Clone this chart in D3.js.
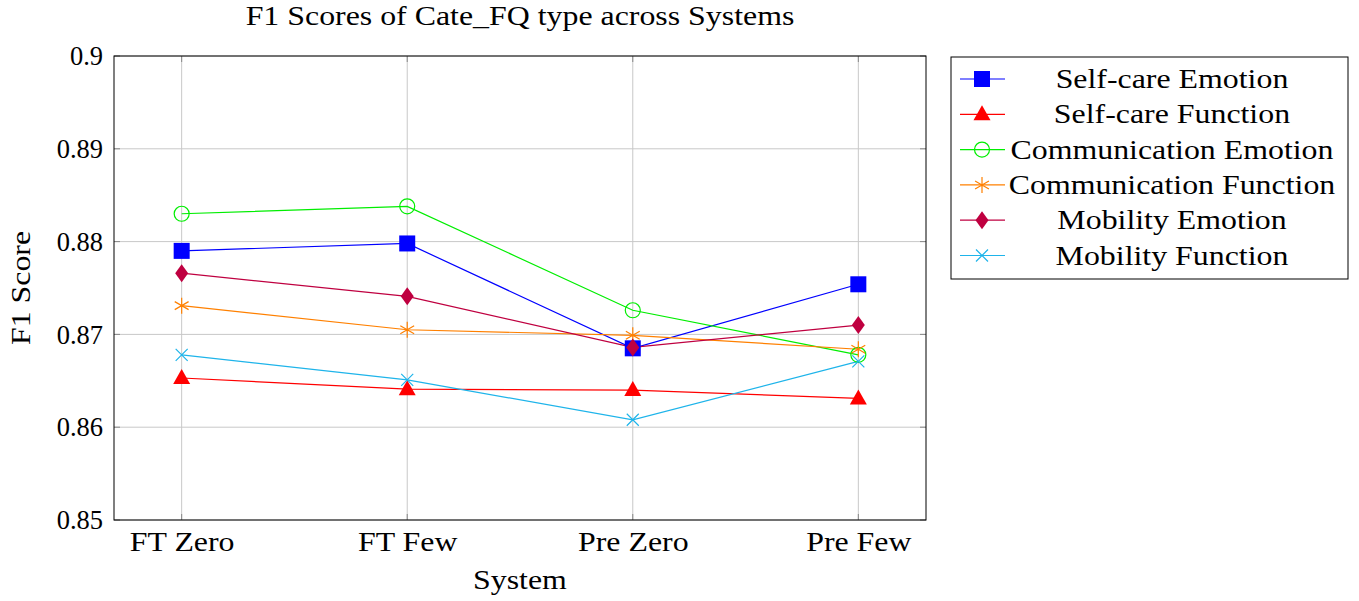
<!DOCTYPE html>
<html><head><meta charset="utf-8">
<script src="https://cdn.jsdelivr.net/npm/d3@7"></script>
<style>body{margin:0;background:#fff}svg text{font-family:"Liberation Serif","DejaVu Serif",serif;fill:#000}</style>
</head><body><svg id="c" width="1359" height="601"></svg>
<script>
const categories = ["FT Zero","FT Few","Pre Zero","Pre Few"];
const seriesNames = ["Self-care Emotion","Self-care Function","Communication Emotion","Communication Function","Mobility Emotion","Mobility Function"];
const selfCareEmotion = [0.8790,0.8798,0.8685,0.8754];
const selfCareFunction = [0.8653,0.8641,0.8640,0.8631];
const commEmotion = [0.8830,0.8838,0.8726,0.8678];
const commFunction = [0.8731,0.8705,0.8699,0.8684];
const mobEmotion = [0.8766,0.8741,0.8686,0.8710];
const mobFunction = [0.8678,0.8651,0.8608,0.8671];
const yTicks = [0.85,0.86,0.87,0.88,0.89,0.9];
const seriesValues = [selfCareEmotion,selfCareFunction,commEmotion,commFunction,mobEmotion,mobFunction];
const colors = ["#0000ff","#ff0000","#00ee00","#ff8000","#bf0040","#1eb4ea"];
const markers = ["square","triangle","circle","star","diamond","cross"];
const FS = "27px";

const svg = d3.select("#c");
const L=114,R=926,T=56,B=520;
const x = d3.scalePoint().domain(categories).range([L,R]).padding(0.3);
const y = d3.scaleLinear().domain([0.85,0.9]).range([B,T]);

const g = svg.append("g");
g.selectAll(".gy").data(yTicks).enter().append("line")
 .attr("x1",L).attr("x2",R).attr("y1",d=>y(d)).attr("y2",d=>y(d)).attr("stroke","#c8c8c8").attr("stroke-width",1);
g.selectAll(".gx").data(categories).enter().append("line")
 .attr("x1",d=>x(d)).attr("x2",d=>x(d)).attr("y1",T).attr("y2",B).attr("stroke","#c8c8c8").attr("stroke-width",1);
yTicks.forEach(t=>{
  g.append("line").attr("x1",L).attr("x2",L+6).attr("y1",y(t)).attr("y2",y(t)).attr("stroke","#888");
  g.append("line").attr("x1",R-6).attr("x2",R).attr("y1",y(t)).attr("y2",y(t)).attr("stroke","#888");
});
categories.forEach(c=>{
  g.append("line").attr("x1",x(c)).attr("x2",x(c)).attr("y1",B-6).attr("y2",B).attr("stroke","#888");
  g.append("line").attr("x1",x(c)).attr("x2",x(c)).attr("y1",T).attr("y2",T+6).attr("stroke","#888");
});

const ya = svg.append("g").attr("transform",`translate(${L},0)`)
 .call(d3.axisLeft(y).tickValues(yTicks).tickFormat(d=>String(+d.toFixed(2))).tickSize(0).tickPadding(11));
ya.select(".domain").remove();
ya.selectAll("text").classed("nostretch",true).style("font-size",FS).style("font-family","'Liberation Serif',serif").attr("fill","#000");
const xa = svg.append("g").attr("transform",`translate(0,${B})`)
 .call(d3.axisBottom(x).tickSize(0).tickPadding(12));
xa.select(".domain").remove();
xa.selectAll("text").style("font-size",FS).style("font-family","'Liberation Serif',serif").attr("fill","#000");

function drawMarker(sel, type, color, cx, cy){
  const gg = sel.append("g").attr("transform",`translate(${cx},${cy})`);
  if(type==="square") gg.append("rect").attr("x",-8).attr("y",-8).attr("width",16).attr("height",16).attr("fill",color);
  else if(type==="triangle") gg.append("path").attr("d","M0,-9L8.5,6L-8.5,6Z").attr("fill",color);
  else if(type==="circle") gg.append("circle").attr("r",7.5).attr("fill","none").attr("stroke",color).attr("stroke-width",1.2);
  else if(type==="diamond") gg.append("path").attr("d","M0,-9L6.5,0L0,9L-6.5,0Z").attr("fill",color);
  else if(type==="star"){
    let d="";
    for(let i=0;i<3;i++){const a=Math.PI/2+i*Math.PI/3; d+=`M${8*Math.cos(a)},${-8*Math.sin(a)}L${-8*Math.cos(a)},${8*Math.sin(a)}`;}
    gg.append("path").attr("d",d).attr("stroke",color).attr("stroke-width",1.2).attr("fill","none");
  } else if(type==="cross"){
    gg.append("path").attr("d","M-6,-6L6,6M-6,6L6,-6").attr("stroke",color).attr("stroke-width",1.2);
  }
}

const line = d3.line().x((d,i)=>x(categories[i])).y(d=>y(d));
seriesValues.forEach((vals,si)=>{
  svg.append("path").datum(vals).attr("d",line).attr("fill","none").attr("stroke",colors[si]).attr("stroke-width",1.2);
});
seriesValues.forEach((vals,si)=>{
  vals.forEach((v,i)=>drawMarker(svg,markers[si],colors[si],x(categories[i]),y(v)));
});

svg.append("rect").attr("x",L).attr("y",T).attr("width",R-L).attr("height",B-T).attr("fill","none").attr("stroke","#000").attr("stroke-width",1);

svg.append("text").attr("x",520).attr("y",25).attr("text-anchor","middle").style("font-size",FS).text("F1 Scores of Cate_FQ type across Systems");
svg.append("text").attr("x",520).attr("y",589).attr("text-anchor","middle").style("font-size",FS).text("System");
svg.append("text").attr("transform","translate(30,288) rotate(-90)").attr("text-anchor","middle").style("font-size",FS).text("F1 Score");

const lg = svg.append("g");
lg.append("rect").attr("x",951).attr("y",57).attr("width",397).attr("height",222).attr("fill","#fff").attr("stroke","#000");
seriesNames.forEach((n,i)=>{
  const yy = 79 + i*35.3;
  lg.append("line").attr("x1",960).attr("x2",1005).attr("y1",yy).attr("y2",yy).attr("stroke",colors[i]).attr("stroke-width",1.2);
  drawMarker(lg,markers[i],colors[i],982,yy);
  lg.append("text").attr("x",1172).attr("y",yy+9).attr("text-anchor","middle").style("font-size",FS).text(n);
});

svg.selectAll("text").each(function(){
  const w = this.getComputedTextLength();
  const k = d3.select(this).classed("nostretch") ? 0.98 : 1.18;
  d3.select(this).attr("textLength", w*k).attr("lengthAdjust","spacingAndGlyphs");
});
</script></body></html>
